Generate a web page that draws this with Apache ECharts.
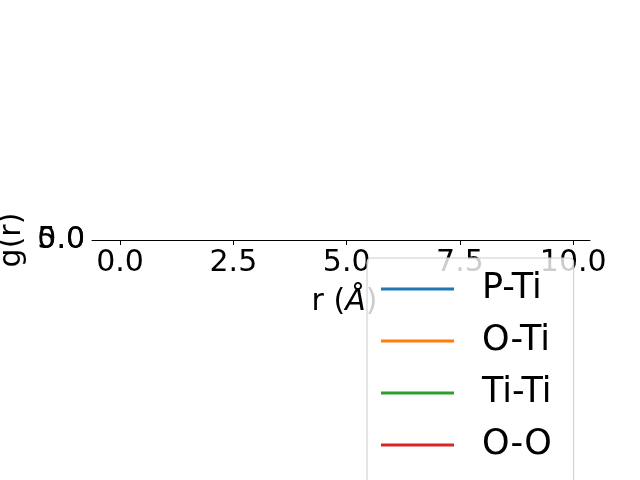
<!DOCTYPE html>
<html><head><meta charset="utf-8">
<script src="https://cdn.jsdelivr.net/npm/echarts@6/dist/echarts.min.js"></script>
<style>html,body{margin:0;padding:0;background:#fff}#c{width:640px;height:480px}</style>
</head><body><div id="c"></div>
<script>
// Series names and colours (plot area collapsed: no curve values readable)
const seriesNames = ['P-Ti', 'O-Ti', 'Ti-Ti', 'O-O'];
const seriesColors = ['#1f77b4', '#ff7f0e', '#2ca02c', '#d62728'];
const pTi = [];
const oTi = [];
const tiTi = [];
const oO = [];
const xTicks = [0, 2.5, 5, 7.5, 10];
const yTicks = [0, 2.5, 5];

const font = 'DejaVu Sans';
const chart = echarts.init(document.getElementById('c'), null, {renderer: 'canvas'});
const seriesData = [pTi, oTi, tiTi, oO];
chart.setOption({
  animation: false,
  backgroundColor: '#fff',
  grid: {left: 92, top: 240, width: 498, height: 0, containLabel: false, outerBoundsMode: 'none'},
  xAxis: {
    type: 'value', min: -0.62, max: 10.37,
    name: '{a|r (}{b|Å}{a|)}', nameLocation: 'middle', nameGap: 47, nameMoveOverlap: false,
    nameTextStyle: {padding: [0, 0, 0, 7], rich: {
      a: {fontFamily: font, fontSize: 30, color: '#000'},
      b: {fontFamily: font, fontSize: 30, fontStyle: 'italic', color: '#000'}
    }},
    axisLine: {show: true, onZero: false, lineStyle: {color: '#000', width: 1}},
    axisTick: {show: true, length: 5, inside: false, customValues: xTicks, lineStyle: {color: '#000'}},
    axisLabel: {show: true, customValues: xTicks, margin: 8, fontFamily: font, fontSize: 30, color: '#000',
      formatter: v => v.toFixed(1)},
    splitLine: {show: false}
  },
  yAxis: {
    type: 'value', min: yTicks[0], max: yTicks[yTicks.length - 1], interval: 2.5,
    name: 'g(r)', nameLocation: 'middle', nameGap: 65, nameMoveOverlap: false,
    nameTextStyle: {fontFamily: font, fontSize: 30, color: '#000'},
    axisLine: {show: false},
    axisTick: {show: true, length: 5, customValues: yTicks, lineStyle: {color: '#000'}},
    axisLabel: {show: true, margin: 7, customValues: yTicks, fontFamily: font, fontSize: 30, color: '#000',
      showMinLabel: true, showMaxLabel: true, hideOverlap: false,
      formatter: v => v.toFixed(1)},
    splitLine: {show: false}
  },
  legend: {
    show: true, orient: 'vertical', left: 367, top: 258, height: 1000,
    backgroundColor: 'rgba(255,255,255,0.8)', borderColor: '#cccccc', borderWidth: 1, borderRadius: 4,
    padding: [11, 22, 40, 14], itemGap: 12,
    icon: 'rect', itemWidth: 73, itemHeight: 3,
    textStyle: {fontFamily: font, fontSize: 35, color: '#000', lineHeight: 40, padding: [0, 0, 0, 23]},
    data: seriesNames
  },
  series: seriesNames.map((n, i) => ({
    name: n, type: 'line', data: seriesData[i], showSymbol: false, clip: true,
    itemStyle: {color: seriesColors[i]}, lineStyle: {color: seriesColors[i], width: 2}
  }))
});
</script></body></html>
